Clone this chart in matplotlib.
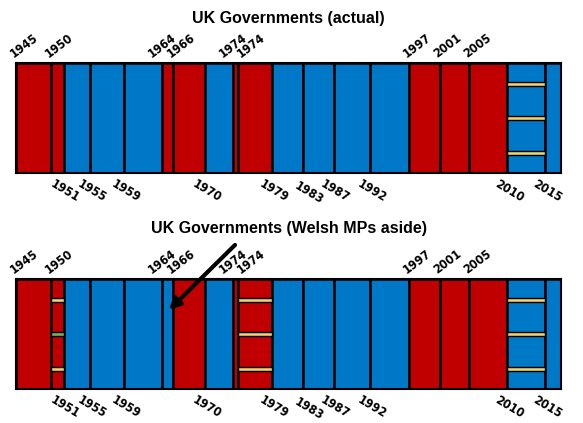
import matplotlib
matplotlib.use('Agg')
import matplotlib.pyplot as plt

# election dates (decimal years) and the end of the last term
starts = [1945.54, 1950.15, 1951.82, 1955.35, 1959.77, 1964.79, 1966.25, 1970.46,
          1974.16, 1974.78, 1979.34, 1983.44, 1987.44, 1992.27, 1997.33, 2001.43,
          2005.35, 2010.35, 2015.35]
end_year = 2017.44
years = ['1945', '1950', '1951', '1955', '1959', '1964', '1966', '1970', '1974',
         '1974', '1979', '1983', '1987', '1992', '1997', '2001', '2005', '2010', '2015']
label_top = [True, True, False, False, False, True, True, False, True,
             True, False, False, False, False, True, True, True, False, False]

actual = ['Lab', 'Lab', 'Con', 'Con', 'Con', 'Lab', 'Lab', 'Con', 'Lab', 'Lab',
          'Con', 'Con', 'Con', 'Con', 'Lab', 'Lab', 'Lab', 'Con', 'Con']
welsh_aside = ['Lab', 'Lab', 'Con', 'Con', 'Con', 'Con', 'Lab', 'Con', 'Lab', 'Lab',
               'Con', 'Con', 'Con', 'Con', 'Lab', 'Lab', 'Lab', 'Con', 'Con']

# hung parliament stripes: term index -> stripe colours (top to bottom)
stripes_actual = {17: ['LD', 'LD', 'LD']}
stripes_welsh = {1: ['LD', 'Oth', 'LD'], 9: ['LD', 'LD', 'LD'], 17: ['LD', 'LD', 'LD']}

colours = {'Lab': '#c00000', 'Con': '#0078c8', 'LD': '#f0d078', 'Oth': '#80b050'}
stripe_y = [0.81, 0.5, 0.18]

# small label nudges to dodge overlaps (years, axes-y)
nudge = {5: (-1.1, 0), 8: (-1.0, 0), 9: (0.7, 0), 11: (0.5, -0.015)}

fig = plt.figure(figsize=(5.83, 4.23), dpi=100)


def panel(rect, parties, stripes, title, title_y):
    ax = fig.add_axes(rect)
    ends = starts[1:] + [end_year]
    widths = [e - s for s, e in zip(starts, ends)]
    ax.bar(starts, 1, width=widths, align='edge',
           color=[colours[p] for p in parties], edgecolor='black', linewidth=1.8)
    for i, cols in stripes.items():
        for y, c in zip(stripe_y, cols):
            ax.bar(starts[i], 0.035, width=widths[i], bottom=y - 0.0175, align='edge',
                   color=colours[c], edgecolor='black', linewidth=1.0)
    for i, (x, lab, top) in enumerate(zip(starts, years, label_top)):
        dx, dy = nudge.get(i, (0, 0))
        if top:
            ax.text(x - 0.3 + dx, 1.05 + dy, lab, rotation=37, rotation_mode='anchor',
                    ha='left', va='baseline', fontsize=9, fontweight='bold',
                    fontstretch='condensed', family='DejaVu Sans')
        else:
            ax.text(x - 1.1 + dx, -0.04 + dy, lab, rotation=-31, rotation_mode='anchor',
                    ha='left', va='top', fontsize=9, fontweight='bold',
                    fontstretch='condensed', family='DejaVu Sans')
    ax.set_xlim(starts[0], end_year)
    ax.set_ylim(0, 1)
    ax.set_xticks([])
    ax.set_yticks([])
    for s in ax.spines.values():
        s.set_linewidth(1.5)
    fig.text(0.495, title_y, title, ha='center', va='center', fontsize=11.5,
             fontweight='bold', family='Liberation Sans')
    return ax


panel([16 / 583, 250 / 423, 545 / 583, 110 / 423], actual, stripes_actual,
      'UK Governments (actual)', 1 - 18 / 423)
panel([16 / 583, 34 / 423, 545 / 583, 110 / 423], welsh_aside, stripes_welsh,
      'UK Governments (Welsh MPs aside)', 1 - 228 / 423)

fig.patches.append(matplotlib.patches.FancyArrowPatch(
    (237 / 583, 1 - 243 / 423), (167 / 583, 1 - 312 / 423),
    transform=fig.transFigure, arrowstyle='-|>', mutation_scale=16,
    linewidth=3, color='black'))

fig.savefig('out.png', dpi=100)
